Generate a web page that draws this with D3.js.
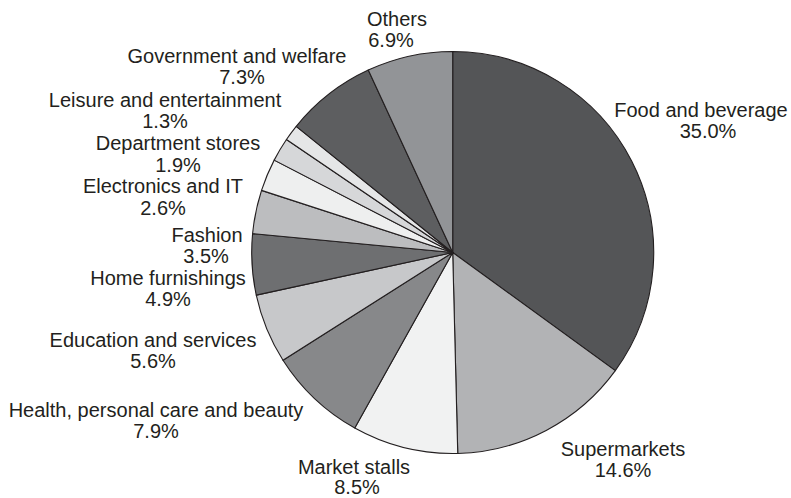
<!DOCTYPE html>
<html>
<head>
<meta charset="utf-8">
<script src="https://cdn.jsdelivr.net/npm/d3@7/dist/d3.min.js"></script>
<style>
  html, body { margin: 0; padding: 0; background: #ffffff; }
  svg { display: block; }
  text { font-family: "Liberation Sans", Arial, Helvetica, sans-serif; font-size: 20px; fill: #231f20; }
</style>
</head>
<body>
<svg id="chart" width="791" height="498"></svg>
<script>
// Retail spending share by category (percent), clockwise from 12 o'clock
const categories = [
  "Food and beverage", "Supermarkets", "Market stalls",
  "Health, personal care and beauty", "Education and services",
  "Home furnishings", "Fashion", "Electronics and IT",
  "Department stores", "Leisure and entertainment",
  "Government and welfare", "Others"
];
const shares = [35.0, 14.6, 8.5, 7.9, 5.6, 4.9, 3.5, 2.6, 1.9, 1.3, 7.3, 6.9];

// Grey fill for each slice
const fills = [
  "#545557", "#b2b3b5", "#f1f2f2", "#87888a", "#c7c8ca", "#6e6f71",
  "#bcbdbf", "#eeefef", "#d6d7d9", "#e5e6e7", "#5d5e60", "#929497"
];

// Label placement: [name x, name baseline, value x, value baseline]
const labelLayout = [
  [701, 117, 708, 138],
  [623, 456, 623, 477],
  [354, 474, 357, 494],
  [156, 417, 156, 438],
  [153, 347, 153, 368],
  [168, 285, 168, 306],
  [207, 242, 206, 263],
  [163, 193, 163, 215],
  [178, 150, 178, 172],
  [165, 107, 165, 128],
  [237, 63, 242, 84],
  [397, 26, 391, 47]
];

const svg = d3.select("#chart");
const cx = 452.7, cy = 252.5, radius = 201;

const data = categories.map((c, i) => ({ name: c, value: shares[i], fill: fills[i], pos: labelLayout[i] }));

const pie = d3.pie().sort(null).value(d => d.value);
const arc = d3.arc().innerRadius(0).outerRadius(radius);

const g = svg.append("g").attr("transform", `translate(${cx},${cy})`);
g.selectAll("path")
  .data(pie(data))
  .join("path")
  .attr("d", arc)
  .attr("fill", d => d.data.fill)
  .attr("stroke", "#231f20")
  .attr("stroke-width", 1.1)
  .attr("stroke-linejoin", "round");

const fmt = d3.format(".1f");
const labels = svg.append("g");
data.forEach(d => {
  labels.append("text")
    .attr("x", d.pos[0]).attr("y", d.pos[1])
    .attr("text-anchor", "middle")
    .text(d.name);
  labels.append("text")
    .attr("x", d.pos[2]).attr("y", d.pos[3])
    .attr("text-anchor", "middle")
    .text(fmt(d.value) + "%");
});
</script>
</body>
</html>
